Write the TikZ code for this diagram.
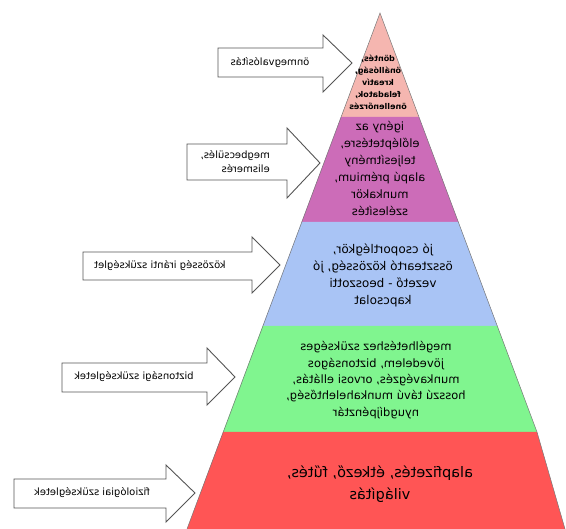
\documentclass[tikz,border=0pt]{standalone}
\usepackage{fontspec}
\setmainfont{DejaVu Sans}
\definecolor{pinkL}{RGB}{245,182,176}
\definecolor{purpL}{RGB}{204,108,184}
\definecolor{blueL}{RGB}{169,196,245}
\definecolor{greenL}{RGB}{128,245,143}
\definecolor{redL}{RGB}{255,85,85}
\definecolor{edgeG}{RGB}{120,120,120}
\definecolor{arrowG}{RGB}{85,85,85}
\tikzset{
  layerfill/.style={draw=none},
  blockarrow/.style={draw=arrowG, fill=white, line width=0.9pt, line join=miter},
  mtext/.style={xscale=-1, align=center, inner sep=0pt, text=black},
}
\begin{document}
\begin{tikzpicture}[x=1pt,y=-1pt]
\useasboundingbox (0,0) rectangle (566,529);
% pyramid layers
\fill[pinkL]  (380,13) -- (419,117) -- (341,117) -- cycle;
\fill[purpL]  (341,117) -- (419,117) -- (458.4,222) -- (301.6,222) -- cycle;
\fill[blueL]  (301.6,222) -- (458.4,222) -- (497.4,326) -- (262.6,326) -- cycle;
\fill[greenL] (262.6,326) -- (497.4,326) -- (537,432) -- (223,432) -- cycle;
\fill[redL]   (223,432) -- (537,432) -- (565,529) -- (187,529) -- cycle;
\draw[edgeG, line width=0.5pt] (187,529) -- (380,13) -- (537,432) -- (565,529);
% layer texts (mirrored)
\node[mtext, font=\fontsize{8}{12}\selectfont\bfseries] (t1) at (378,82)
  {döntés,\\önállóság,\\kreatív\\feladatok,\\önellenőrzés};
\node[mtext, font=\fontsize{11.5}{17}\selectfont] (t2) at (380,168)
  {igény az\\előléptetésre,\\teljesítmény\\alapú prémium,\\munkakör\\szélesítés};
\node[mtext, font=\fontsize{12}{17}\selectfont] (t3) at (383,275)
  {jó csoportlégkör,\\összteartó közösség, jó\\vezető - beoszotti\\kapcsolat};
\node[mtext, font=\fontsize{11.5}{16.3}\selectfont] (t4) at (376,380)
  {megélhetéshez szükséges\\jövedelem, biztonságos\\munkavégzés, orvosi ellátás,\\hosszú távú munkahelehtőség,\\nyugdíjpénztár};
\node[mtext, font=\fontsize{14.5}{22}\selectfont] (t5) at (380,484)
  {alapfizetés, étkező, fűtés,\\világítás};
% block arrows
\draw[blockarrow] (218,48) -- (323,48) -- (323,35) -- (352,63) -- (323,92) -- (323,77) -- (218,77) -- cycle;
\draw[blockarrow] (187,144) -- (287,144) -- (287,128) -- (320,163) -- (287,198) -- (287,180) -- (187,180) -- cycle;
\draw[blockarrow] (83,252) -- (252,252) -- (252,237) -- (280,265) -- (252,293) -- (252,280) -- (83,280) -- cycle;
\draw[blockarrow] (62,363) -- (207,363) -- (207,348) -- (235,377) -- (207,405) -- (207,392) -- (62,392) -- cycle;
\draw[blockarrow] (14,479) -- (166,479) -- (166,465) -- (195,493) -- (166,522) -- (166,508) -- (14,508) -- cycle;
% arrow texts (mirrored)
\node[mtext, font=\fontsize{10}{14}\selectfont] (a1) at (270,63) {önmegvalósítás};
\node[mtext, align=left, font=\fontsize{10}{14}\selectfont, anchor=west] (a2) at (270,162) {megbecsülés,\\elismerés};
\node[mtext, font=\fontsize{10}{14}\selectfont] (a3) at (160,266) {közösség iránti szükséglet};
\node[mtext, font=\fontsize{10}{14}\selectfont] (a4) at (134,377) {biztonsági szükségletek};
\node[mtext, font=\fontsize{10}{14}\selectfont] (a5) at (92,493) {fiziológiai szükségletek};
\end{tikzpicture}
\end{document}
